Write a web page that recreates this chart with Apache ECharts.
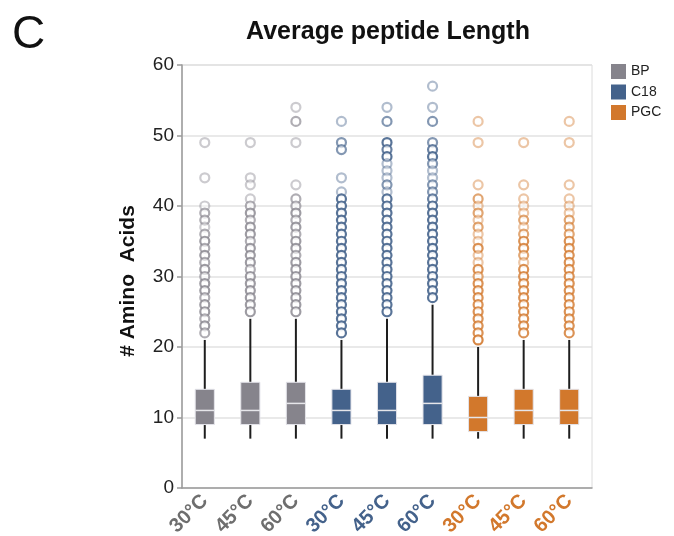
<!DOCTYPE html>
<html>
<head>
<meta charset="utf-8">
<script src="https://cdn.jsdelivr.net/npm/echarts@6/dist/echarts.min.js"></script>
<style>
  html, body { margin: 0; padding: 0; background: #fff; }
  #main { width: 674px; height: 536px; }
</style>
</head>
<body>
<div id="main"></div>
<script>
// categories (one per box), what is printed under each tick, and the group of each
var categories = ['BP-30', 'BP-45', 'BP-60', 'C18-30', 'C18-45', 'C18-60', 'PGC-30', 'PGC-45', 'PGC-60'];
var tickLabels = ['30°C', '45°C', '60°C', '30°C', '45°C', '60°C', '30°C', '45°C', '60°C'];
var groups = ['BP', 'C18', 'PGC'];
var groupOfBox = [0, 0, 0, 1, 1, 1, 2, 2, 2];
var groupColors = ['#86848c', '#44628b', '#d2782c'];
var labelColors = ['#6e6e6e', '#44628b', '#d2782c'];

// box stats: [lower whisker, Q1, median, Q3, upper whisker]
var boxStats = [
  [7, 9, 11, 14, 21],
  [7, 9, 11, 15, 24],
  [7, 9, 12, 15, 24],
  [7, 9, 11, 14, 21],
  [7, 9, 11, 15, 24],
  [7, 9, 12, 16, 26],
  [7, 8, 10, 13, 20],
  [7, 9, 11, 14, 21],
  [7, 9, 11, 14, 21]
];

// outliers per box: [length, how many peptides overlap there]
var outBP30 = [[49,1],[44,1],[40,1],[39,2],[38,2],[37,1],[36,2],[35,3],[34,2],[33,3],[32,2],[31,3],[30,2],[29,3],[28,3],[27,2],[26,3],[25,3],[24,2],[23,3],[22,2]];
var outBP45 = [[49,1],[44,1],[43,1],[41,1],[40,2],[39,3],[38,2],[37,3],[36,3],[35,2],[34,3],[33,3],[32,3],[31,2],[30,3],[29,3],[28,3],[27,3],[26,3],[25,3]];
var outBP60 = [[54,1],[52,2],[49,1],[43,1],[41,2],[40,2],[39,3],[38,2],[37,3],[36,2],[35,3],[34,3],[33,2],[32,3],[31,3],[30,3],[29,3],[28,3],[27,3],[26,3],[25,3]];
var outC1830 = [[52,1],[49,2],[48,2],[44,1],[42,1],[41,4],[40,4],[39,4],[38,4],[37,4],[36,4],[35,4],[34,4],[33,4],[32,4],[31,4],[30,4],[29,4],[28,4],[27,4],[26,4],[25,4],[24,4],[23,4],[22,4]];
var outC1845 = [[54,1],[52,2],[49,4],[48,3],[47,4],[46,1],[45,1],[44,1],[43,2],[42,1],[41,4],[40,4],[39,4],[38,4],[37,4],[36,4],[35,4],[34,4],[33,4],[32,4],[31,4],[30,4],[29,4],[28,4],[27,4],[26,4],[25,4]];
var outC1860 = [[57,1],[54,1],[52,2],[49,2],[48,3],[47,4],[46,2],[45,1],[44,1],[43,2],[42,2],[41,3],[40,4],[39,4],[38,4],[37,4],[36,4],[35,4],[34,4],[33,4],[32,4],[31,4],[30,4],[29,4],[28,4],[27,4]];
var outPGC30 = [[52,1],[49,1],[43,1],[41,2],[40,1],[39,2],[38,1],[37,2],[36,1],[35,1],[34,3],[33,1],[32,1],[31,3],[30,2],[29,3],[28,3],[27,3],[26,3],[25,3],[24,3],[23,3],[22,3],[21,4]];
var outPGC45 = [[49,1],[43,1],[41,1],[40,1],[39,1],[38,2],[37,1],[36,2],[35,3],[34,3],[33,2],[32,1],[31,3],[30,3],[29,3],[28,3],[27,3],[26,3],[25,3],[24,3],[23,3],[22,3]];
var outPGC60 = [[52,1],[49,1],[43,1],[41,1],[40,1],[39,1],[38,2],[37,2],[36,2],[35,3],[34,3],[33,3],[32,3],[31,3],[30,3],[29,3],[28,3],[27,3],[26,3],[25,3],[24,3],[23,3],[22,3]];
var outliers = [outBP30, outBP45, outBP60, outC1830, outC1845, outC1860, outPGC30, outPGC45, outPGC60];

var myChart = echarts.init(document.getElementById('main'));
var FONT = '"Liberation Sans", Arial, sans-serif';

function renderBox(params, api) {
	var x = api.value(0);
	var lo = api.coord([x, api.value(1)]);
	var q1 = api.coord([x, api.value(2)]);
	var md = api.coord([x, api.value(3)]);
	var q3 = api.coord([x, api.value(4)]);
	var hi = api.coord([x, api.value(5)]);
	var w = api.size([1, 0])[0] * 0.42;
	var col = groupColors[api.value(6)];
	return {
		type: 'group',
		children: [
			{ type: 'line', shape: { x1: lo[0], y1: lo[1], x2: q1[0], y2: q1[1] }, style: { stroke: '#1e1e1e', lineWidth: 2 } },
			{ type: 'line', shape: { x1: q3[0], y1: q3[1], x2: hi[0], y2: hi[1] }, style: { stroke: '#1e1e1e', lineWidth: 2 } },
			{ type: 'rect', shape: { x: q3[0] - w / 2, y: q3[1], width: w, height: q1[1] - q3[1] }, style: { fill: col, stroke: '#e4e4ea', lineWidth: 1 } },
			{ type: 'line', shape: { x1: md[0] - w / 2, y1: md[1], x2: md[0] + w / 2, y2: md[1] }, style: { stroke: '#e6e6ea', lineWidth: 1.5 } }
		]
	};
}

var series = [];
groups.forEach(function(g, gi) {
	var data = [];
	for (var i = 0; i < categories.length; i++) {
		if (groupOfBox[i] === gi) {
			data.push([i].concat(boxStats[i]).concat([gi]));
		}
	}
	series.push({
		name: g,
		type: 'custom',
		renderItem: renderBox,
		itemStyle: { color: groupColors[gi] },
		encode: { x: 0, y: [1, 2, 3, 4, 5] },
		data: data,
		z: 3
	});
});
groups.forEach(function(g, gi) {
	var data = [];
	for (var i = 0; i < categories.length; i++) {
		if (groupOfBox[i] !== gi) continue;
		outliers[i].forEach(function(o) {
			data.push({
				value: [i, o[0]],
				itemStyle: { opacity: 1 - Math.pow(0.58, o[1]) }
			});
		});
	}
	series.push({
		name: g,
		type: 'scatter',
		symbol: 'circle',
		symbolSize: 9,
		itemStyle: { color: '#fff', borderColor: groupColors[gi], borderWidth: 2.2 },
		data: data,
		z: 2
	});
});

var option = {
	animation: false,
	textStyle: { fontFamily: FONT },
	title: [
		{ text: 'C', left: 12, top: 12, padding: 0, textStyle: { fontFamily: FONT, fontSize: 46, fontWeight: 'normal', color: '#111' } },
		{ text: 'Average peptide Length', left: 388, top: 20, padding: 0, textAlign: 'center', textStyle: { fontFamily: FONT, fontSize: 25, fontWeight: 'bold', color: '#111' } }
	],
	legend: {
		orient: 'vertical',
		left: 611,
		top: 64,
		padding: 0,
		itemWidth: 15,
		itemHeight: 15,
		itemGap: 5.5,
		icon: 'rect',
		data: groups,
		textStyle: { fontFamily: FONT, fontSize: 14, color: '#222' }
	},
	grid: { left: 182, right: 82, top: 65, bottom: 48, outerBoundsMode: 'none', show: true, borderColor: '#dcdcdc', borderWidth: 1 },
	xAxis: {
		type: 'category',
		data: categories,
		axisLine: { lineStyle: { color: '#9a9a9a', width: 1.5 } },
		axisTick: { alignWithLabel: true, length: 6, lineStyle: { color: '#9a9a9a', width: 1.5 } },
		axisLabel: {
			interval: 0,
			rotate: 45,
			margin: 10,
			fontFamily: FONT,
			fontSize: 20,
			fontWeight: 'bold',
			formatter: function(v, idx) { return tickLabels[idx]; },
			color: function(v, idx) { return labelColors[groupOfBox[idx]]; }
		},
		splitLine: { show: false }
	},
	yAxis: {
		type: 'value',
		min: 0,
		max: 60,
		interval: 10,
		name: '# Amino  Acids',
		nameLocation: 'middle',
		nameGap: 43,
		nameTextStyle: { fontFamily: FONT, fontSize: 21, fontWeight: 'bold', color: '#111', padding: [0, 9, 0, 0] },
		axisLine: { show: true, lineStyle: { color: '#9a9a9a', width: 1.5 } },
		axisTick: { show: true, length: 5, lineStyle: { color: '#9a9a9a', width: 1.5 } },
		axisLabel: { fontFamily: FONT, fontSize: 19, color: '#222', margin: 8 },
		splitLine: { lineStyle: { color: '#e2e2e2', width: 1.5 } }
	},
	series: series
};

myChart.setOption(option);
</script>
</body>
</html>
